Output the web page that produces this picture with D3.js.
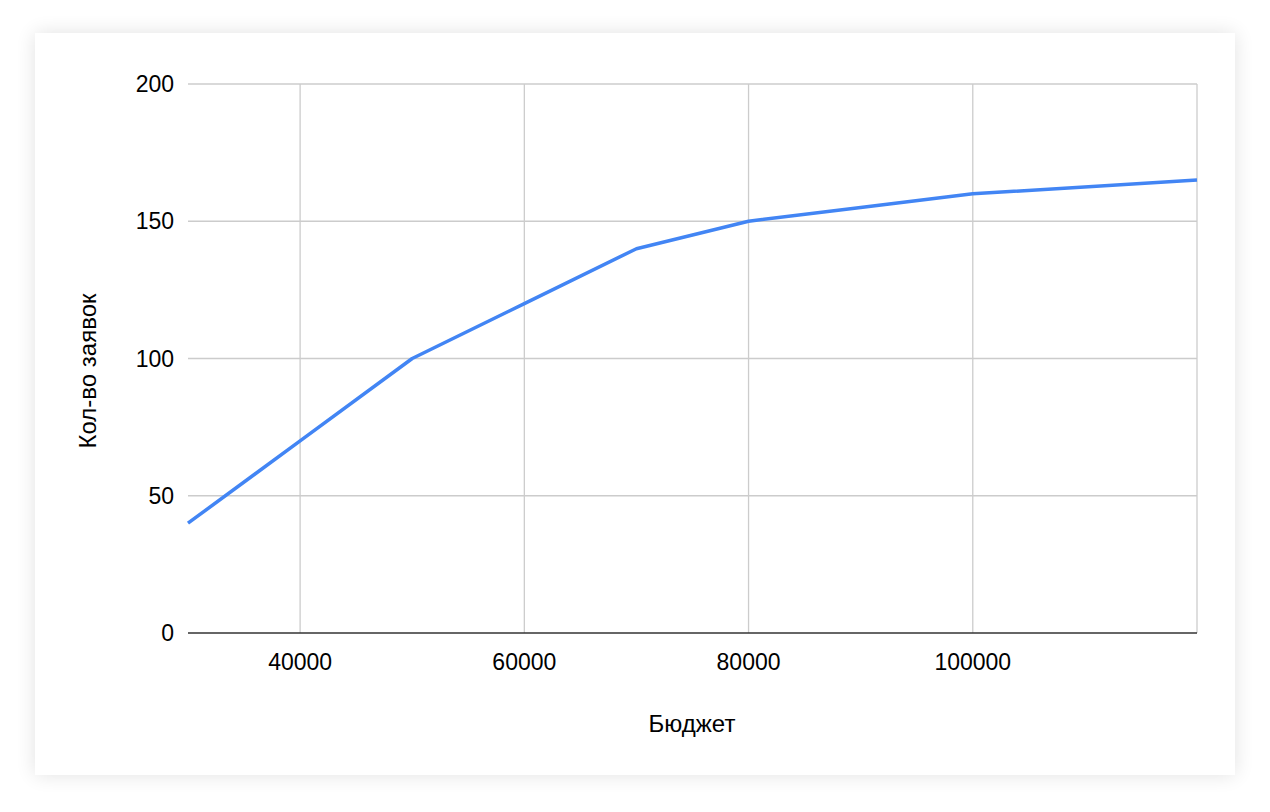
<!DOCTYPE html>
<html>
<head>
<meta charset="utf-8">
<script src="https://cdn.jsdelivr.net/npm/d3@7"></script>
<style>
  html, body { margin: 0; padding: 0; background: #fff; }
  #chart { width: 1270px; height: 812px; }
</style>
</head>
<body>
<div id="chart"></div>
<script>
// budget (x) vs number of applications (y)
const budget = [30000, 40000, 50000, 60000, 70000, 80000, 90000, 100000, 120000];
const requests = [40, 70, 100, 120, 140, 150, 155, 160, 165];
const xTicks = [40000, 60000, 80000, 100000, 120000];
const yTicks = [0, 50, 100, 150, 200];
const xTitle = 'Бюджет';
const yTitle = 'Кол-во заявок';

const W = 1270;
const H = 812;
const plot = { left: 188, right: 1197, top: 84, bottom: 633 };

const svg = d3.select('#chart').append('svg').attr('width', W).attr('height', H);

// card with soft shadow
const defs = svg.append('defs');
const f = defs.append('filter').attr('id', 'shadow')
  .attr('x', '-5%').attr('y', '-5%').attr('width', '110%').attr('height', '110%');
f.append('feGaussianBlur').attr('in', 'SourceAlpha').attr('stdDeviation', 10);
f.append('feComponentTransfer').append('feFuncA').attr('type', 'linear').attr('slope', 0.12);
const merge = f.append('feMerge');
merge.append('feMergeNode');
merge.append('feMergeNode').attr('in', 'SourceGraphic');

svg.append('rect')
  .attr('x', 35).attr('y', 33).attr('width', 1200).attr('height', 742)
  .attr('fill', '#fff')
  .attr('filter', 'url(#shadow)');

const x = d3.scaleLinear().domain([30000, 120000]).range([plot.left, plot.right]);
const y = d3.scaleLinear().domain([0, 200]).range([plot.bottom, plot.top]);

const font = '"Liberation Sans", Arial, sans-serif';

// gridlines
svg.append('g').selectAll('line').data(yTicks.filter(d => d !== 0)).enter().append('line')
  .attr('x1', plot.left).attr('x2', plot.right)
  .attr('y1', d => y(d)).attr('y2', d => y(d))
  .attr('stroke', '#cccccc').attr('stroke-width', 1.3);

svg.append('g').selectAll('line').data(xTicks).enter().append('line')
  .attr('x1', d => x(d)).attr('x2', d => x(d))
  .attr('y1', plot.top).attr('y2', plot.bottom)
  .attr('stroke', '#cccccc').attr('stroke-width', 1.3);

// baseline
svg.append('line')
  .attr('x1', plot.left).attr('x2', plot.right)
  .attr('y1', y(0)).attr('y2', y(0))
  .attr('stroke', '#333').attr('stroke-width', 1.6);

// tick labels
svg.append('g').selectAll('text').data(yTicks).enter().append('text')
  .attr('x', 174).attr('y', d => y(d)).attr('dy', '0.35em')
  .attr('text-anchor', 'end')
  .style('font-family', font).style('font-size', '23px').attr('fill', '#000')
  .text(d => d);

svg.append('g').selectAll('text').data(xTicks.filter(d => d < 120000)).enter().append('text')
  .attr('x', d => x(d)).attr('y', 662).attr('dy', '0.35em')
  .attr('text-anchor', 'middle')
  .style('font-family', font).style('font-size', '23px').attr('fill', '#000')
  .text(d => d);

// axis titles
svg.append('text')
  .attr('x', 692).attr('y', 724).attr('dy', '0.35em')
  .attr('text-anchor', 'middle')
  .style('font-family', font).style('font-size', '24px').attr('fill', '#000')
  .text(xTitle);

svg.append('text')
  .attr('transform', 'translate(88,371) rotate(-90)')
  .attr('dy', '0.35em')
  .attr('text-anchor', 'middle')
  .style('font-family', font).style('font-size', '24px').attr('fill', '#000')
  .text(yTitle);

// series line
const line = d3.line().x(d => x(d[0])).y(d => y(d[1]));
svg.append('path')
  .datum(budget.map((b, i) => [b, requests[i]]))
  .attr('d', line)
  .attr('fill', 'none')
  .attr('stroke', '#4285f4')
  .attr('stroke-width', 3.5)
  .attr('stroke-linejoin', 'round');
</script>
</body>
</html>
